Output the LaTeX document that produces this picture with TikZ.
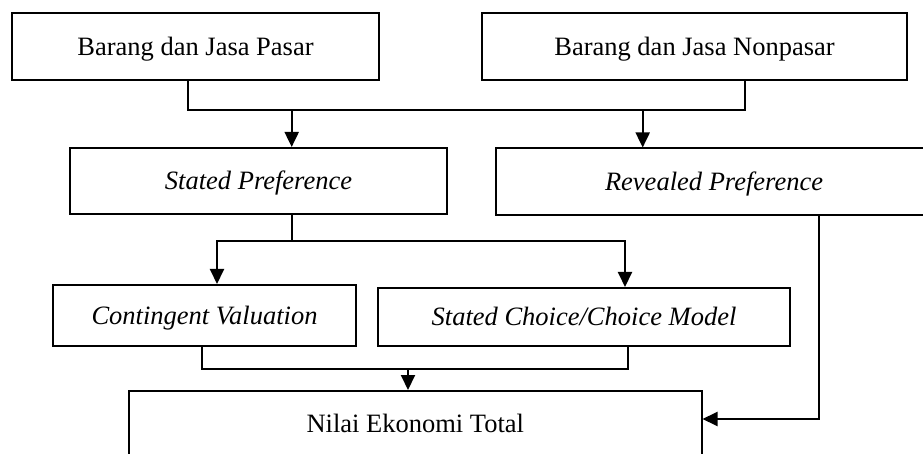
\documentclass[tikz,border=0pt]{standalone}
\usepackage{fontspec}
\setmainfont{Liberation Serif}
\usetikzlibrary{arrows.meta}
\begin{document}
\begin{tikzpicture}[x=1pt,y=-1pt,
  box/.style={draw, line width=2pt, inner sep=0pt, font=\fontsize{26.5}{30}\selectfont, text height=17.5pt, text depth=0pt},
  line/.style={line width=2pt},
  arr/.style={line width=2pt, -{Triangle[length=15pt,width=14pt]}}]
\useasboundingbox (0,0) rectangle (923,454);
\clip (0,0) rectangle (923,454);
\node[box, minimum width=367pt, minimum height=67pt] (b1) at (195.5,46.5) {Barang dan Jasa Pasar};
\node[box, minimum width=425pt, minimum height=67pt] (b2) at (694.5,46.5) {Barang dan Jasa Nonpasar};
\node[box, minimum width=377pt, minimum height=66.5pt] (sp) at (258.5,181.25) {\itshape Stated Preference};
\node[box, minimum width=436pt, minimum height=67pt] (rp) at (714,182) {\itshape Revealed Preference};
\node[box, minimum width=303pt, minimum height=61pt] (cv) at (204.5,315.5) {\itshape Contingent Valuation};
\node[box, minimum width=412pt, minimum height=58pt] (sc) at (584,317) {\itshape Stated Choice/Choice Model};
\node[box, minimum width=572.5pt, minimum height=66pt] (nt) at (415.25,424) {Nilai Ekonomi Total};
% level 1
\coordinate (h1L) at (188,110);
\coordinate (h1R) at (745,110);
\coordinate (a1) at (291.7,110);
\coordinate (a2) at (642.7,110);
\draw[line] (h1L |- b1.south) -- (h1L) -- (h1R) -- (h1R |- b2.south);
\draw[arr] (a1) -- (a1 |- sp.north);
\draw[arr] (a2) -- (a2 |- rp.north);
% level 2
\coordinate (h2M) at (291.7,240.7);
\coordinate (h2L) at (217,240.7);
\coordinate (h2R) at (625,240.7);
\draw[arr] (h2M |- sp.south) -- (h2M) -- (h2L) -- (h2L |- cv.north);
\draw[arr] (h2M) -- (h2R) -- (h2R |- sc.north);
% level 3
\coordinate (h3L) at (202,368.7);
\coordinate (h3R) at (628,368.7);
\coordinate (h3M) at (408,368.7);
\draw[line] (h3L |- cv.south) -- (h3L) -- (h3R) -- (h3R |- sc.south);
\draw[arr] (h3M) -- (h3M |- nt.north);
% revealed to total
\coordinate (rc) at (819,419);
\draw[arr] (rc |- rp.south) -- (rc) -- (rc -| nt.east);
\end{tikzpicture}
\end{document}
